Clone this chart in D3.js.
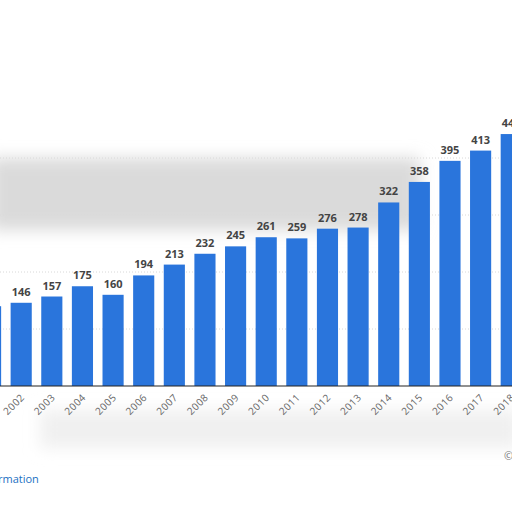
<!DOCTYPE html>
<html>
<head>
<meta charset="utf-8">
<style>
body { margin: 0; background: #fff; }
text { font-family: "Open Sans", sans-serif; }
</style>
</head>
<body>
<div id="chart"></div>
<script src="https://d3js.org/d3.v7.min.js"></script>
<script>
var years = ['2001','2002','2003','2004','2005','2006','2007','2008','2009','2010','2011','2012','2013','2014','2015','2016','2017','2018'];
var values = [140, 146, 157, 175, 160, 194, 213, 232, 245, 261, 259, 276, 278, 322, 358, 395, 413, 442];
var gridTicks = [100, 200, 300, 400];

var w = 512, h = 512, base = 386;
var svg = d3.select('#chart').append('svg').attr('width', w).attr('height', h);

var defs = svg.append('defs');
defs.append('filter').attr('id', 'blur').attr('x', '-20%').attr('y', '-50%').attr('width', '140%').attr('height', '200%')
  .append('feGaussianBlur').attr('stdDeviation', 8);

var x = d3.scaleBand().domain(years).range([-24.6, 526.4]).paddingInner(0.31).paddingOuter(0.15);
var y = d3.scaleLinear().domain([0, 100]).range([base, base - 57]);

svg.selectAll('line.grid').data(gridTicks).enter().append('line')
  .attr('x1', 0).attr('x2', w).attr('y1', y).attr('y2', y)
  .attr('stroke', '#d8d8d8').attr('stroke-dasharray', '1,2');

// blurred overlays
svg.append('rect').attr('x', -10).attr('y', 158).attr('width', 430).attr('height', 72)
  .attr('fill', '#dadada').attr('filter', 'url(#blur)');
svg.append('rect').attr('x', 40).attr('y', 410).attr('width', 480).attr('height', 38)
  .attr('fill', '#f0f0f0').attr('filter', 'url(#blur)');

svg.selectAll('rect.bar').data(values).enter().append('rect')
  .attr('x', function(d, i) { return x(years[i]); })
  .attr('width', x.bandwidth())
  .attr('y', function(d) { return y(d); })
  .attr('height', function(d) { return base - y(d); })
  .attr('fill', '#2a75dc');

svg.selectAll('text.val').data(values).enter().append('text')
  .attr('x', function(d, i) { return x(years[i]) + x.bandwidth() / 2; })
  .attr('y', function(d) { return y(d) - 7; })
  .attr('text-anchor', 'middle').attr('font-size', 11).attr('font-weight', 'bold')
  .attr('fill', '#444').text(function(d) { return d; });

svg.append('line').attr('x1', 0).attr('x2', w).attr('y1', base).attr('y2', base)
  .attr('stroke', '#222').attr('stroke-width', 1.2);

svg.selectAll('text.yr').data(years).enter().append('text')
  .attr('transform', function(d) { return 'translate(' + (x(d) + x.bandwidth() / 2 + 4) + ',' + (base + 12) + ') rotate(-45)'; })
  .attr('text-anchor', 'end').attr('font-size', 10).attr('letter-spacing', 0.5).attr('fill', '#666').text(function(d) { return d; });

svg.append('text').attr('x', -2).attr('y', 483).attr('font-size', 11).attr('fill', '#1a6fc2').text('rmation');
svg.append('text').attr('x', 504).attr('y', 460).attr('font-size', 11).attr('fill', '#777').text('©');
</script>
</body>
</html>
